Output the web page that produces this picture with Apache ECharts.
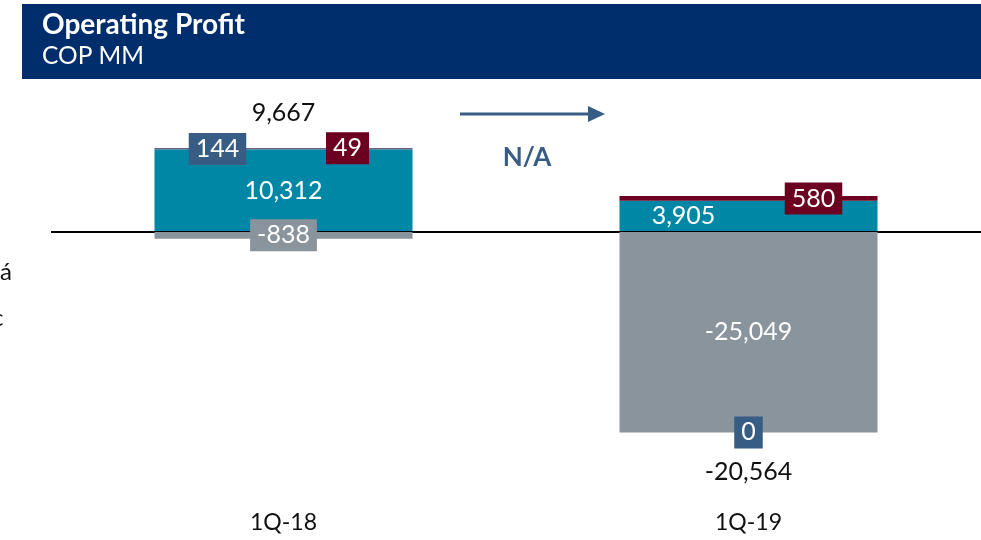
<!DOCTYPE html>
<html>
<head>
<meta charset="utf-8">
<script src="https://cdn.jsdelivr.net/npm/echarts@6/dist/echarts.min.js"></script>
<style>
  html, body { margin: 0; padding: 0; background: #ffffff; }
  #chart { width: 981px; height: 540px; }
</style>
</head>
<body>
<div id="chart"></div>
<script>
// Operating profit bridge components, COP MM
const categories = ['1Q-18', '1Q-19'];
const coreProfit = [10312, 3905];     // teal
const otherItems = [-838, -25049];    // grey
const adjustmentA = [144, 0];         // slate blue
const adjustmentB = [49, 580];        // maroon
const totals = [9667, -20564];

const COLORS = {
  header: '#002D6B',
  teal: '#0087A6',
  grey: '#8A949D',
  blue: '#375D85',
  maroon: '#6C0020',
  text: '#111111'
};
const FONT = 'Lato, "Open Sans", sans-serif';

// horizontal label shifts per category (px)
const tealShift = [0, -65];
const blueShift = [-66, 0];
const maroonShift = [64, 65];

const fmt = v => Number(v).toLocaleString('en-US');

function items(values, shifts) {
  return values.map((v, i) => ({ value: v, label: { offset: [shifts ? shifts[i] : 0, 0] } }));
}

const boxLabel = (bg) => ({
  show: true,
  position: 'inside',
  color: '#ffffff',
  fontFamily: FONT,
  fontSize: 25,
  backgroundColor: bg,
  padding: [4, 7, 3, 7],
  formatter: p => fmt(p.value)
});

// top of the positive stack and bottom of the negative stack for each category
const totalRows = categories.map((c, i) => {
  const parts = [coreProfit[i], otherItems[i], adjustmentA[i], adjustmentB[i]];
  const pos = parts.filter(v => v > 0).reduce((a, b) => a + b, 0);
  const neg = parts.filter(v => v < 0).reduce((a, b) => a + b, 0);
  return [i, totals[i], pos, neg];
});

const chart = echarts.init(document.getElementById('chart'), null, { renderer: 'canvas' });

chart.setOption({
  animation: false,
  backgroundColor: '#ffffff',
  grid: { left: 51, right: 0, top: 80, height: 420 },
  xAxis: {
    type: 'category',
    data: categories,
    position: 'bottom',
    axisLine: { show: false },
    axisTick: { show: false },
    axisLabel: { margin: 11, fontSize: 23, color: COLORS.text, fontFamily: FONT }
  },
  yAxis: {
    type: 'value',
    min: -33500,
    max: 19000,
    show: false,
    splitLine: { show: false }
  },
  graphic: [
    { type: 'rect', shape: { x: 22, y: 4, width: 959, height: 75 }, style: { fill: COLORS.header } },
    { type: 'text', x: 42, y: 11, style: { text: 'Operating Profit', fill: '#ffffff', font: 'bold 28px ' + FONT } },
    { type: 'text', x: 42, y: 44, style: { text: 'COP MM', fill: '#ffffff', font: '24.5px ' + FONT } },
    { type: 'text', x: 0, y: 260, style: { text: 'á', fill: COLORS.text, font: '24px ' + FONT } },
    { type: 'text', x: -8, y: 306, style: { text: 'c', fill: COLORS.text, font: '24px ' + FONT } },
    { type: 'line', shape: { x1: 460, y1: 114, x2: 592, y2: 114 }, style: { stroke: COLORS.blue, lineWidth: 3 } },
    { type: 'polygon', shape: { points: [[588, 106], [605, 114], [588, 122]] }, style: { fill: COLORS.blue } },
    { type: 'text', x: 527, y: 158, style: { text: 'N/A', fill: COLORS.blue, font: 'bold 26px ' + FONT, align: 'center', verticalAlign: 'middle' } }
  ],
  series: [
    {
      name: 'Core',
      type: 'bar',
      stack: 'op',
      barWidth: 258,
      itemStyle: { color: COLORS.teal },
      data: items(coreProfit, tealShift),
      label: { show: true, position: 'inside', color: '#ffffff', fontFamily: FONT, fontSize: 25, formatter: p => fmt(p.value) },
      markLine: {
        silent: true,
        z: 5,
        symbol: 'none',
        label: { show: false },
        lineStyle: { color: '#000000', width: 2, type: 'solid' },
        data: [{ yAxis: 0 }]
      }
    },
    {
      name: 'Other',
      type: 'bar',
      stack: 'op',
      z: 6,
      itemStyle: { color: COLORS.grey },
      data: items(otherItems),
      label: boxLabel(COLORS.grey)
    },
    {
      name: 'Adjustment A',
      type: 'bar',
      stack: 'op',
      z: 7,
      itemStyle: { color: COLORS.blue },
      data: items(adjustmentA, blueShift),
      label: boxLabel(COLORS.blue)
    },
    {
      name: 'Adjustment B',
      type: 'bar',
      stack: 'op',
      z: 7,
      itemStyle: { color: COLORS.maroon },
      data: items(adjustmentB, maroonShift),
      label: boxLabel(COLORS.maroon)
    },
    {
      name: 'Total',
      type: 'custom',
      data: totalRows,
      encode: { x: 0, y: 1 },
      renderItem: (params, api) => {
        const idx = api.value(0);
        const total = api.value(1);
        const edge = total >= 0 ? api.value(2) : api.value(3);
        const pt = api.coord([idx, edge]);
        return {
          type: 'text',
          style: {
            text: fmt(total),
            x: pt[0],
            y: total >= 0 ? pt[1] - 35 : pt[1] + 40,
            fill: COLORS.text,
            font: '25px ' + FONT,
            align: 'center',
            verticalAlign: 'middle'
          }
        };
      }
    }
  ]
});
</script>
</body>
</html>
